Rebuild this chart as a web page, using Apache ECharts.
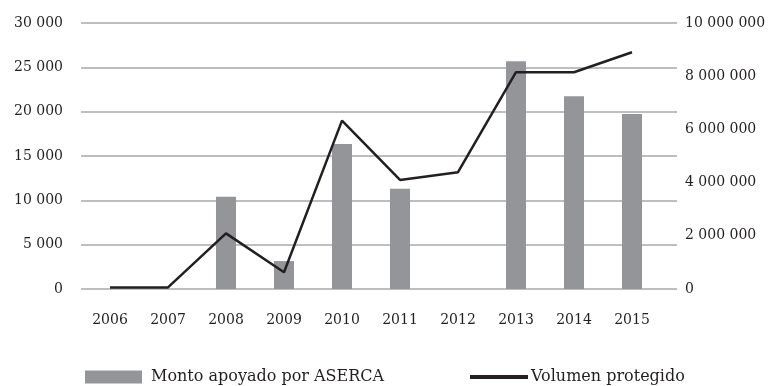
<!DOCTYPE html>
<html>
<head>
<meta charset="utf-8">
<script src="https://cdn.jsdelivr.net/npm/echarts@6/dist/echarts.min.js"></script>
<style>
  html, body { margin: 0; padding: 0; background: #fff; }
  #chart { width: 770px; height: 386px; }
</style>
</head>
<body>
<div id="chart"></div>
<script>
const years = ['2006', '2007', '2008', '2009', '2010', '2011', '2012', '2013', '2014', '2015'];
const montoAserca = [null, null, 10400, 3150, 16350, 11300, null, 25700, 21750, 19750];
const volumenProtegido = [60000, 60000, 2090000, 630000, 6330000, 4100000, 4390000, 8150000, 8150000, 8900000];

const fontFam = '"DejaVu Serif", "Liberation Serif", serif';
const txt = { fontFamily: fontFam, fontSize: 14, color: '#231f20' };

// thousands with a space, like the print version
const fmt = function (v) {
  return String(v).replace(/\B(?=(\d{3})+(?!\d))/g, ' ');
};

const chart = echarts.init(document.getElementById('chart'));

chart.setOption({
  animation: false,
  // grid 0 only carries the gridlines and value labels, grid 1 the bars/line
  grid: [
    { left: 81, right: 93, top: 23, bottom: 97 },
    { left: 81, right: 109, top: 23, bottom: 97 }
  ],
  legend: [
    {
      data: ['Monto apoyado por ASERCA'],
      left: 80, top: 364,
      itemWidth: 57, itemHeight: 13,
      icon: 'rect',
      textStyle: Object.assign({ padding: [0, 0, 0, 4] }, txt, { fontSize: 16 })
    },
    {
      data: ['Volumen protegido'],
      left: 465, top: 364,
      itemWidth: 58, itemHeight: 4,
      icon: 'rect',
      textStyle: Object.assign({ padding: [0, 0, 0, -2] }, txt, { fontSize: 16 })
    }
  ],
  xAxis: [
    { gridIndex: 0, type: 'category', data: years, show: false },
    {
      gridIndex: 1, type: 'category', data: years,
      axisLine: { show: false }, axisTick: { show: false },
      axisLabel: Object.assign({ margin: 24 }, txt)
    }
  ],
  yAxis: [
    {
      gridIndex: 0, type: 'value', min: 0, max: 30000, interval: 5000,
      axisLine: { show: false }, axisTick: { show: false },
      axisLabel: Object.assign({ margin: 18, formatter: fmt }, txt),
      splitLine: { lineStyle: { color: '#bcbec0', width: 2 } }
    },
    {
      gridIndex: 0, type: 'value', position: 'right', min: 0, max: 10000000, interval: 2000000,
      axisLine: { show: false }, axisTick: { show: false },
      axisLabel: Object.assign({ margin: 8, formatter: fmt }, txt),
      splitLine: { show: false }
    },
    { gridIndex: 1, type: 'value', min: 0, max: 30000, show: false, splitLine: { show: false } },
    { gridIndex: 1, type: 'value', min: 0, max: 10000000, show: false, splitLine: { show: false } }
  ],
  series: [
    {
      name: 'Monto apoyado por ASERCA',
      type: 'bar',
      xAxisIndex: 1, yAxisIndex: 2,
      barWidth: 20,
      data: montoAserca,
      itemStyle: { color: '#939598' }
    },
    {
      name: 'Volumen protegido',
      type: 'line',
      xAxisIndex: 1, yAxisIndex: 3,
      symbol: 'none',
      data: volumenProtegido,
      lineStyle: { color: '#231f20', width: 2.5 },
      itemStyle: { color: '#231f20' }
    }
  ]
});
</script>
</body>
</html>
